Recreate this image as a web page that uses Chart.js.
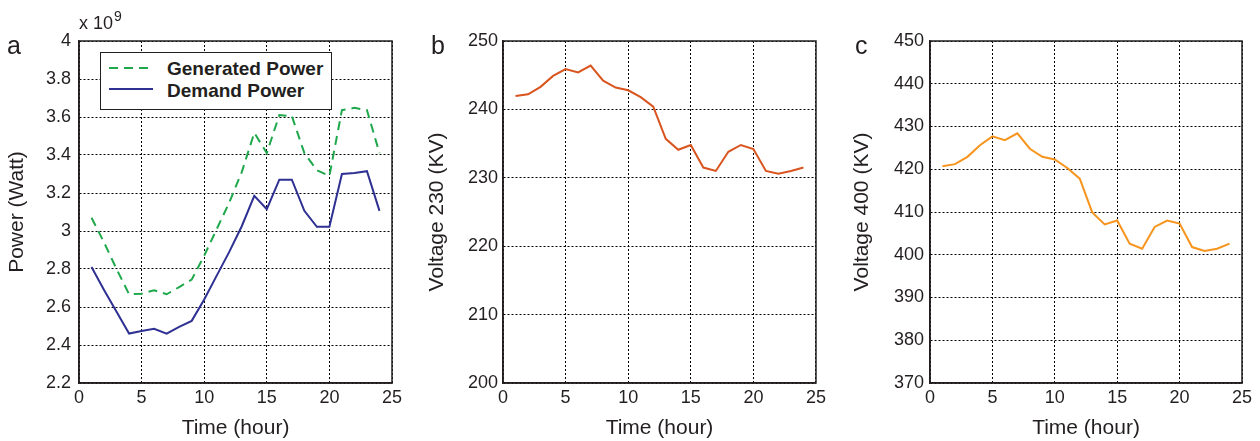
<!DOCTYPE html>
<html>
<head>
<meta charset="utf-8">
<script src="https://cdn.jsdelivr.net/npm/chart.js@4/dist/chart.umd.min.js"></script>
<style>
  body { margin: 0; background: #fff; width: 1260px; height: 441px; overflow: hidden; position: relative;
         font-family: "Liberation Sans", Arial, sans-serif; color: #231f20; }
  canvas { position: absolute; top: 0; }
  .tag { position: absolute; font-size: 25px; line-height: 1; }
  .legend { position: absolute; left: 100px; top: 52px; width: 230px; height: 56px; border: 1.5px solid #231f20;
            background: #fff; font-weight: bold; font-size: 19px; }
  .legend div { position: absolute; left: 66px; }
  .legend svg { position: absolute; left: 4px; }
</style>
</head>
<body>
<canvas id="chartA" width="410" height="441" style="left:0px"></canvas>
<canvas id="chartB" width="410" height="441" style="left:420px"></canvas>
<canvas id="chartC" width="420" height="441" style="left:840px"></canvas>

<div class="tag" style="left:7px; top:33px;">a</div>
<div class="tag" style="left:431px; top:33px;">b</div>
<div class="tag" style="left:855px; top:33px;">c</div>
<div style="position:absolute; left:79px; top:14px; font-size:18px; line-height:1;">x 10<span style="font-size:14px; position:relative; top:-8px; left:1px;">9</span></div>

<div class="legend">
  <svg width="60" height="56">
    <line x1="4" y1="15" x2="48" y2="15" stroke="#1ea84b" stroke-width="2" stroke-dasharray="9,6"/>
    <line x1="4" y1="36" x2="48" y2="36" stroke="#2e3192" stroke-width="2"/>
  </svg>
  <div style="top:5px;">Generated Power</div>
  <div style="top:27px;">Demand Power</div>
</div>

<script>
// hours 1..24
const hours = [1,2,3,4,5,6,7,8,9,10,11,12,13,14,15,16,17,18,19,20,21,22,23,24];

// power in units of 10^9 W
const generatedPower = [3.07,2.94,2.80,2.667,2.67,2.688,2.667,2.705,2.744,2.87,3.01,3.15,3.31,3.517,3.41,3.61,3.605,3.41,3.32,3.29,3.636,3.648,3.636,3.41];
const demandPower    = [2.81,2.69,2.575,2.46,2.474,2.485,2.46,2.495,2.527,2.64,2.765,2.89,3.025,3.185,3.115,3.27,3.27,3.106,3.022,3.022,3.30,3.305,3.315,3.106];

// voltages in KV
const voltage230 = [241.95,242.2,243.3,244.9,245.9,245.4,246.4,244.2,243.2,242.8,241.8,240.4,235.7,234.1,234.8,231.5,231.0,233.8,234.8,234.2,231.0,230.6,231.0,231.5];
const voltage400 = [420.7,421.2,422.9,425.6,427.7,426.8,428.4,424.8,422.9,422.3,420.3,417.8,409.9,407.1,408.0,402.6,401.4,406.5,408.0,407.3,401.8,400.9,401.4,402.6];

const xTitle = 'Time (hour)';
const inkColor = '#231f20';
const fontFamily = '"Liberation Sans", Arial, sans-serif';

// box around the plot area (matlab style)
const boxPlugin = {
  id: 'box',
  afterDraw(chart) {
    const a = chart.chartArea, c = chart.ctx;
    c.save();
    c.strokeStyle = inkColor;
    c.lineWidth = 1.5;
    c.strokeRect(a.left, a.top, a.right - a.left, a.bottom - a.top);
    c.restore();
  }
};

function makePanel(id, datasets, yCfg) {
  const pts = d => hours.map((h, i) => ({ x: h, y: d[i] }));
  return new Chart(document.getElementById(id), {
    type: 'line',
    data: {
      datasets: datasets.map(d => ({
        data: pts(d.values),
        borderColor: d.color,
        borderWidth: 2,
        borderDash: d.dash || [],
        pointRadius: 0,
        tension: 0,
        fill: false
      }))
    },
    options: {
      responsive: false,
      animation: false,
      layout: { padding: { top: 41, right: yCfg.padRight, bottom: 0, left: 0 } },
      plugins: { legend: { display: false }, tooltip: { enabled: false } },
      scales: {
        x: {
          type: 'linear', min: 0, max: 25,
          ticks: { stepSize: 5, color: inkColor, padding: 4, maxRotation: 0,
                   font: { size: 18, family: fontFamily } },
          grid: { color: '#000', lineWidth: 1, drawTicks: false },
          border: { display: true, color: inkColor, width: 1.5, dash: [2, 2] },
          title: { display: true, text: xTitle, color: inkColor, padding: 0,
                   font: { size: 21, family: fontFamily } },
          afterFit: s => { s.height = 58; }
        },
        y: {
          min: yCfg.min, max: yCfg.max,
          ticks: { stepSize: yCfg.step, color: inkColor, padding: yCfg.tickPad,
                   font: { size: 18, family: fontFamily },
                   callback: v => String(Math.round(v * 100) / 100) },
          grid: { color: '#000', lineWidth: 1, drawTicks: false },
          border: { display: true, color: inkColor, width: 1.5, dash: [2, 2] },
          title: { display: true, text: yCfg.title, color: inkColor, padding: { top: yCfg.titlePad, bottom: 0 },
                   font: { size: 21, family: fontFamily } },
          afterFit: s => { s.width = yCfg.width; }
        }
      }
    },
    plugins: [boxPlugin]
  });
}

makePanel('chartA', [
  { values: generatedPower, color: '#1ea84b', dash: [9, 6] },
  { values: demandPower, color: '#2e3192' }
], { min: 2.2, max: 4, step: 0.2, title: 'Power (Watt)', width: 79, tickPad: 8, titlePad: 5, padRight: 18 });

makePanel('chartB', [
  { values: voltage230, color: '#d9541e' }
], { min: 200, max: 250, step: 10, title: 'Voltage 230 (KV)', width: 83, tickPad: 5, titlePad: 5, padRight: 13 });

makePanel('chartC', [
  { values: voltage400, color: '#f7941d' }
], { min: 370, max: 450, step: 10, title: 'Voltage 400 (KV)', width: 90, tickPad: 6, titlePad: 10, padRight: 18 });
</script>
</body>
</html>
